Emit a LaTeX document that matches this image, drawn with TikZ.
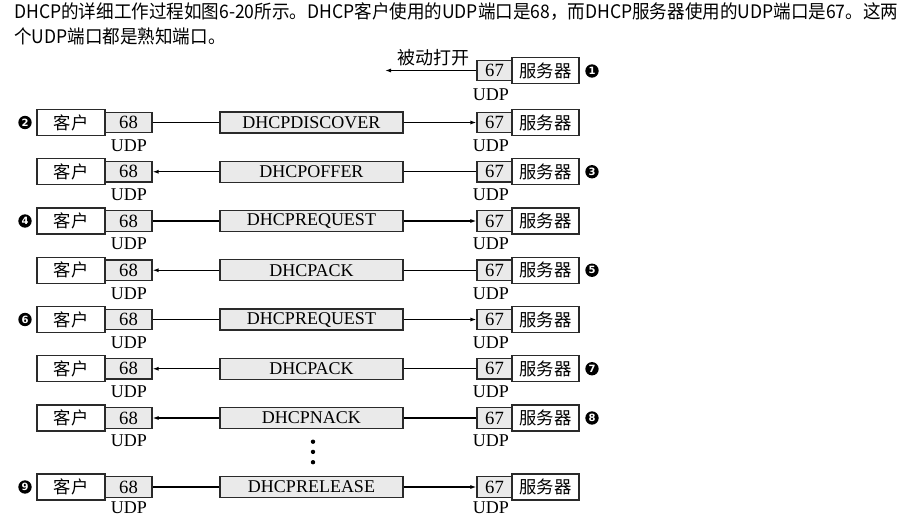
\documentclass[tikz,border=0pt]{standalone}
\usepackage{fontspec}
\setmainfont{Liberation Serif}
\newfontfamily\cjk{Noto Sans CJK SC}
\newfontfamily\dvs{DejaVu Sans}
\usetikzlibrary{arrows.meta}
\definecolor{boxgray}{HTML}{EAEAEA}
\definecolor{edge}{HTML}{2A2A2A}
\tikzset{
  tip/.tip={Latex[length=4.5pt,width=3pt]},
  hostbox/.style={draw=edge, line width=0.85pt, fill=white, minimum height=19.5pt, inner sep=0pt, font=\cjk\fontsize{13pt}{15pt}\selectfont},
  clientbox/.style={hostbox, minimum width=51pt},
  serverbox/.style={hostbox, minimum width=50.25pt},
  portbox/.style={draw=edge, line width=0.85pt, fill=boxgray, minimum height=15.4pt, inner sep=0pt, font=\fontsize{14pt}{15pt}\selectfont},
  cport/.style={portbox, minimum width=35.25pt},
  sport/.style={portbox, minimum width=26.25pt},
  msgbox/.style={draw=edge, line width=0.85pt, fill=boxgray, minimum width=137.25pt, minimum height=15.75pt, inner sep=0pt, font=\fontsize{13.5pt}{15pt}\selectfont},
  udplabel/.style={inner sep=0pt, font=\fontsize{13.5pt}{15pt}\selectfont},
  stepnum/.style={circle, fill=black, text=white, minimum size=10pt, inner sep=0pt, font=\dvs\bfseries\fontsize{7.5pt}{8pt}\selectfont},
  conn/.style={line width=0.9pt, draw=black},
  segra/.style={conn},
  segrb/.style={conn, -tip},
  segla/.style={conn, tip-},
  seglb/.style={conn},
  headline/.style={inner sep=0pt, anchor=base west, font=\cjk\fontsize{14pt}{16pt}\selectfont},
  dotmark/.style={circle, fill=black, minimum size=3.3pt, inner sep=0pt}
}
\begin{document}
\begin{tikzpicture}[x=0.75pt, y=-0.75pt]
\fill[white] (0,0) rectangle (915,517);
\useasboundingbox (0,0) rectangle (915,517);
% header text
\node[headline] (h1) at (14,19) {\resizebox{663pt}{\height}{DHCP的详细工作过程如图6-20所示。DHCP客户使用的UDP端口是68，而DHCP服务器使用的UDP端口是67。这两}};
\node[headline] (h2) at (14,44) {\scalebox{0.94}[1]{个UDP端口都是熟知端口。}};
% row 0: passive open
\node[serverbox] (s0) at (545.5,70.5) {服务器};
\node[sport] (q0) at (494.5,70.5) {67};
\node[udplabel] (uq0) at (491,94.5) {UDP};
\coordinate (a0) at (385,70.5);
\draw[conn,-tip] (q0.west) -- (a0);
\node[inner sep=0pt, font=\cjk\fontsize{13.5pt}{15pt}\selectfont] (t0) at (433,58) {被动打开};
\node[stepnum] (n0) at (592,71) {1};
% message rows
\foreach \k/\y/\msg/\dir/\cx/\num/\ud in {
  1/122.5/DHCPDISCOVER/r/25/2/23,
  2/171.75/DHCPOFFER/l/592/3/23,
  3/221/DHCPREQUEST/r/25/4/23,
  4/270.25/DHCPACK/l/592/5/23,
  5/319.5/DHCPREQUEST/r/25/6/23,
  6/368.75/DHCPACK/l/592/7/23,
  7/418/DHCPNACK/l/592/8/23,
  8/487/DHCPRELEASE/r/25/9/20.5}{
  \node[clientbox] (c\k) at (71,\y) {客户};
  \node[cport] (p\k) at (128.5,\y) {68};
  \node[msgbox] (m\k) at (311.5,\y) {\msg};
  \node[sport] (q\k) at (494.5,\y) {67};
  \node[serverbox] (s\k) at (545.5,\y) {服务器};
  \node[udplabel] (up\k) at (129,\y+\ud) {UDP};
  \node[udplabel] (uq\k) at (491,\y+\ud) {UDP};
  \draw[seg\dir a] (p\k.east) -- (m\k.west);
  \draw[seg\dir b] (m\k.east) -- (q\k.west);
  \node[stepnum] (n\k) at (\cx,\y) {\num};
}
% ellipsis dots
\node[dotmark] (d1) at (313,441.7) {};
\node[dotmark] (d2) at (313,451.9) {};
\node[dotmark] (d3) at (313,462.2) {};
\end{tikzpicture}
\end{document}
